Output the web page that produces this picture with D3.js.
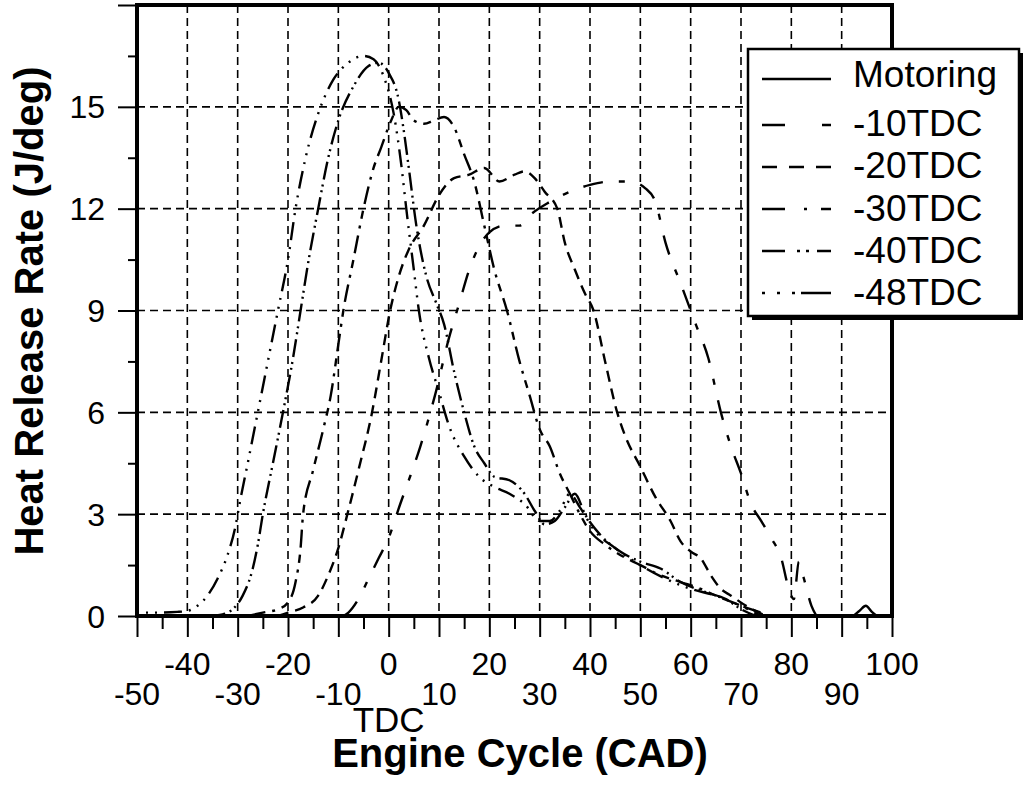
<!DOCTYPE html>
<html>
<head>
<meta charset="utf-8">
<script src="https://cdn.jsdelivr.net/npm/d3@7"></script>
<style>
  html, body { margin: 0; padding: 0; background: #fff; }
  svg { display: block; font-family: "Liberation Sans", Arial, Helvetica, sans-serif; }
</style>
</head>
<body>
<svg id="chart" width="1028" height="793"></svg>
<script>
// ---------------- DATA ----------------
const seriesNames = ["Motoring", "-10TDC", "-20TDC", "-30TDC", "-40TDC", "-48TDC"];

const motoring = [[-50,0],[92,0],[93.5,0.15],[94.8,0.3],[96,0.12],[97,0]];

const tdc10 = [[-9,0],[-8,0.1],[-6,0.5],[-4,1.1],[-2,1.7],[0,2.3],[2.3,3.3],[4,4],[6.3,5],[9.2,6.5],[12,8.2],[14,9.2],[16,10.2],[18,10.9],[20,11.3],[23,11.5],[26,11.5],[28,11.8],[32,12.2],[36,12.5],[40,12.7],[44,12.8],[48,12.8],[51,12.6],[53,12.2],[55,11],[58,9.8],[61,8.6],[63.5,7.6],[66,6],[68,5],[70,4.2],[72,3.3],[74,2.8],[76,2.3],[78,1.7],[79.5,0.8],[80.5,0.5],[81.5,1.6],[82.5,1.1],[84,0.3],[85,0]];

const tdc20 = [[-22,0],[-20,0.1],[-17,0.25],[-14,0.6],[-12,1.2],[-10,2],[-8.2,3],[-6,4.3],[-3.3,6],[-1.5,7.5],[0.3,9],[2,10],[4,10.8],[7,11.5],[10,12.4],[13,12.9],[16,13],[19,13.2],[22,12.8],[25,13],[27,13.1],[29,12.9],[31,12.5],[33.5,12],[35,11],[37,10.2],[39,9.5],[40.7,9],[43,7.5],[45.4,6],[47,5.3],[50,4.4],[53,3.5],[56,2.8],[58,2.2],[60,1.9],[62,1.7],[64,1.2],[66,0.8],[68,0.6],[71,0.3],[75,0]];

const tdc30 = [[-28,0],[-25,0.1],[-22,0.2],[-20,0.4],[-18.5,1.0],[-17.5,2],[-17,3],[-15,4.3],[-13,5.5],[-11.5,6.5],[-10,8],[-9,9],[-7,10.5],[-5,12],[-3,13.2],[-1.5,13.8],[0.5,14.6],[2,15],[3.5,14.9],[5,14.6],[7,14.5],[9,14.6],[11,14.7],[13,14.4],[15,13.6],[17,12.8],[19,11.5],[21,10.2],[23.5,9],[26,7.5],[28,6.5],[30,5.5],[32,5],[34,4.2],[36,3.6],[38,3.0],[40,2.5],[43,2.1],[46,1.8],[50,1.5],[54,1.2],[58,1.0],[62,0.8],[65,0.6],[70,0.3],[74,0]];

const tdc40 = [[-36,0],[-33,0.05],[-31,0.2],[-29,0.6],[-27,1.4],[-26,2.1],[-25,3],[-23,4.5],[-21,6],[-19,7.6],[-17.5,9],[-16,10.4],[-14,12],[-12,13.5],[-10,14.6],[-7,15.6],[-4,16.2],[-2,16.3],[0,16.0],[2,15.2],[3,14.3],[4,13.2],[5.5,11.5],[7.5,10],[9.5,9.2],[11,8.6],[13,7.2],[15,6],[17,5],[19,4.5],[21,4.1],[24,4.0],[27,3.6],[29,3.1],[31,2.7],[33,2.8],[35,3.2],[37,3.6],[39,3.0],[42,2.4],[46,1.9],[50,1.6],[54,1.4],[58,1.0],[63,0.7],[67,0.5],[70,0.2],[73,0]];

const tdc48 = [[-50,0.1],[-46,0.1],[-42,0.12],[-40,0.15],[-38,0.3],[-36,0.6],[-34,1.1],[-32,1.8],[-30.5,2.6],[-29.5,3.4],[-28,4.5],[-26,6],[-24,7.5],[-22,9],[-20,10.5],[-18.5,12],[-16.5,13.5],[-14,14.8],[-11,15.8],[-8,16.3],[-5,16.5],[-3,16.4],[-1,15.9],[1,14.8],[2.5,13.3],[3.5,12],[5,10.2],[6,9],[8,7.6],[10,6.6],[12,5.6],[15,4.7],[18,4.1],[21,3.8],[24,3.6],[27,3.3],[30,2.8],[32,2.8],[34,3.1],[36,3.6],[38,3.2],[41,2.5],[45,2.0],[50,1.5],[55,1.1],[60,0.8],[65,0.6],[70,0.3],[74,0.1]];

const xTickLabels = [-50,-40,-30,-20,-10,0,10,20,30,40,50,60,70,80,90,100];
const xMinorTicks = [-45,-35,-25,-15,-5,5,15,25,35,45,55,65,75,85,95];
const yTickLabels = [0,3,6,9,12,15];
const yMajorTicks = [0,3,6,9,12,15,18];
const yMinorTicks = [1.5,4.5,7.5,10.5,13.5,16.5];
const xGrid = [-40,-30,-20,-10,0,10,20,30,40,50,60,70,80,90];
const yGrid = [3,6,9,12,15];

const xTitle = "Engine Cycle (CAD)";
const yTitle = "Heat Release Rate (J/deg)";
const tdcLabel = "TDC";

// ---------------- STYLE ----------------
const dashPlot = {
  "Motoring": null,
  "-10TDC": "20,16,6,16",
  "-20TDC": "11,7",
  "-30TDC": "18,7,3,7,8,7",
  "-40TDC": "18,5,2,4,2,5",
  "-48TDC": "2,7,2,7,2,7,18,7"
};
const dashLegend = {
  "Motoring": null,
  "-10TDC": "23,37,9,40",
  "-20TDC": "15,12,15,12,15,40",
  "-30TDC": "23,19,3,14,10,40",
  "-40TDC": "23,12,3,6,3,8,20,40",
  "-48TDC": "3,12,3,12,3,6,30,40"
};

// ---------------- CHART ----------------
const svg = d3.select("#chart");
const x = d3.scaleLinear().domain([-50, 100]).range([137, 892]);
const y = d3.scaleLinear().domain([0, 18]).range([616, 5]);

svg.append("rect").attr("width", 1028).attr("height", 793).attr("fill", "#fff");

// grid
const grid = svg.append("g").attr("stroke", "#000").attr("stroke-width", 1.6).attr("stroke-dasharray", "8,5");
grid.selectAll("line.vg").data(xGrid).join("line").attr("class", "vg")
  .attr("x1", d => x(d)).attr("x2", d => x(d)).attr("y1", y(18)).attr("y2", y(0));
grid.selectAll("line.hg").data(yGrid).join("line").attr("class", "hg")
  .attr("x1", x(-50)).attr("x2", x(100)).attr("y1", d => y(d)).attr("y2", d => y(d));

// clip
svg.append("clipPath").attr("id", "clip").append("rect")
  .attr("x", x(-50)).attr("y", y(18)).attr("width", x(100) - x(-50)).attr("height", y(0) - y(18));

const line = d3.line().x(d => x(d[0])).y(d => y(d[1])).curve(d3.curveMonotoneX);
const allSeries = [motoring, tdc10, tdc20, tdc30, tdc40, tdc48];
const curves = svg.append("g").attr("clip-path", "url(#clip)");
allSeries.forEach((s, i) => {
  curves.append("path").datum(s)
    .attr("d", line)
    .attr("fill", "none")
    .attr("stroke", "#000")
    .attr("stroke-width", 2.4)
    .attr("stroke-dasharray", dashPlot[seriesNames[i]]);
});

// axes ticks
const axB = svg.append("g").attr("transform", `translate(0,${y(0)})`)
  .call(d3.axisBottom(x).tickValues(xTickLabels).tickSize(21).tickFormat(""));
const axBm = svg.append("g").attr("transform", `translate(0,${y(0)})`)
  .call(d3.axisBottom(x).tickValues(xMinorTicks).tickSize(13).tickFormat(""));
const axL = svg.append("g").attr("transform", `translate(${x(-50)},0)`)
  .call(d3.axisLeft(y).tickValues(yMajorTicks).tickSize(19).tickFormat(""));
const axLm = svg.append("g").attr("transform", `translate(${x(-50)},0)`)
  .call(d3.axisLeft(y).tickValues(yMinorTicks).tickSize(9).tickFormat(""));
[axB, axBm, axL, axLm].forEach(a => {
  a.select(".domain").remove();
  a.selectAll(".tick line").attr("stroke", "#000").attr("stroke-width", 2);
});

// frame
svg.append("rect")
  .attr("x", x(-50)).attr("y", y(18))
  .attr("width", x(100) - x(-50)).attr("height", y(0) - y(18))
  .attr("fill", "none").attr("stroke", "#000").attr("stroke-width", 4);

// x tick labels (staggered)
svg.append("g").selectAll("text").data(xTickLabels).join("text")
  .attr("x", d => x(d))
  .attr("y", (d, i) => (i % 2 === 0) ? 705 : 675)
  .attr("text-anchor", "middle")
  .attr("font-size", 32)
  .attr("fill", "#000")
  .text(d => d);

// y tick labels
svg.append("g").selectAll("text").data(yTickLabels).join("text")
  .attr("x", 105)
  .attr("y", d => y(d) + 11.5)
  .attr("text-anchor", "end")
  .attr("font-size", 32)
  .attr("fill", "#000")
  .text(d => d);

// TDC label
svg.append("text").attr("x", x(0)).attr("y", 732).attr("text-anchor", "middle")
  .attr("font-size", 35).attr("fill", "#000").text(tdcLabel);

// axis titles
svg.append("text").attr("x", 520).attr("y", 767).attr("text-anchor", "middle")
  .attr("font-size", 40).attr("font-weight", "bold").attr("fill", "#000").text(xTitle);
svg.append("text").attr("transform", "translate(43,311) rotate(-90)").attr("text-anchor", "middle")
  .attr("font-size", 40).attr("font-weight", "bold").attr("fill", "#000").text(yTitle);

// legend
const lg = svg.append("g");
lg.append("rect").attr("x", 752).attr("y", 53).attr("width", 271).attr("height", 267).attr("fill", "#000");
lg.append("rect").attr("x", 748).attr("y", 49).attr("width", 271).attr("height", 267)
  .attr("fill", "#fff").attr("stroke", "#000").attr("stroke-width", 2.5);
seriesNames.forEach((name, i) => {
  const ry = i === 0 ? 79 : 125 + (i - 1) * 42;
  const ty = i === 0 ? 87 : 136 + (i - 1) * 42.3;
  lg.append("line").attr("x1", 762).attr("x2", 831).attr("y1", ry).attr("y2", ry)
    .attr("stroke", "#000").attr("stroke-width", 2.5)
    .attr("stroke-dasharray", dashLegend[name]);
  lg.append("text").attr("x", 853).attr("y", ty).attr("font-size", 37).attr("fill", "#000").text(name);
});
</script>
</body>
</html>
